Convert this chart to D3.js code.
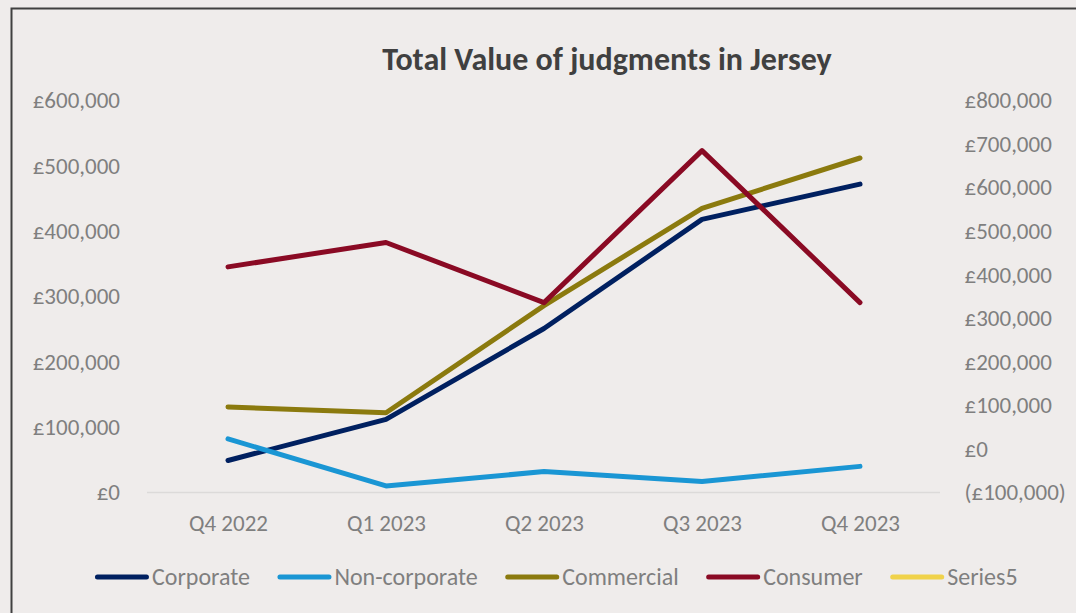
<!DOCTYPE html>
<html>
<head>
<meta charset="utf-8">
<script src="https://cdn.jsdelivr.net/npm/d3@7"></script>
<style>
  html, body { margin: 0; padding: 0; background: #efeceb; }
  svg { display: block; font-family: Calibri, Carlito, Lato, sans-serif; }
</style>
</head>
<body>
<div id="chart"></div>
<script>
var categories = ["Q4 2022", "Q1 2023", "Q2 2023", "Q3 2023", "Q4 2023"];
var corporate = [49000, 112000, 251000, 418000, 472000];
var nonCorporate = [82000, 10000, 32000, 17000, 40000];
var commercial = [131000, 122000, 286000, 435000, 512000];
var consumer = [418000, 474000, 336000, 685000, 336000];   // secondary axis
var series5 = [];
var leftTicks = [0, 100000, 200000, 300000, 400000, 500000, 600000];
var rightTicks = [-100000, 0, 100000, 200000, 300000, 400000, 500000, 600000, 700000, 800000];

var seriesList = [
  {name: "Corporate", values: corporate, axis: "left", color: "#002060"},
  {name: "Non-corporate", values: nonCorporate, axis: "left", color: "#1a96d4"},
  {name: "Commercial", values: commercial, axis: "left", color: "#8b7a0e"},
  {name: "Consumer", values: consumer, axis: "right", color: "#8a0a24"},
  {name: "Series5", values: series5, axis: "right", color: "#f0d24a"}
];

var width = 1076, height = 613;
var plot = {left: 149, right: 939, top: 100.5, bottom: 492.5};
var fontSize = 23;

var svg = d3.select("#chart").append("svg")
  .attr("width", width)
  .attr("height", height);

svg.append("rect")
  .attr("width", width).attr("height", height)
  .attr("fill", "#efeceb");

// outer frame (runs off the right / bottom edges)
svg.append("rect")
  .attr("x", 11.5).attr("y", 8.5)
  .attr("width", 1200).attr("height", 800)
  .attr("fill", "#efeceb")
  .attr("stroke", "#404040")
  .attr("stroke-width", 2);

svg.append("text")
  .attr("x", 607).attr("y", 70)
  .attr("text-anchor", "middle")
  .attr("font-size", 32)
  .attr("font-weight", "bold")
  .attr("fill", "#404040")
  .text("Total Value of judgments in Jersey");

var x = d3.scalePoint().domain(categories).range([plot.left, plot.right]).padding(0.5);
var yLeft = d3.scaleLinear().domain([0, 600000]).range([plot.bottom, plot.top]);
var yRight = d3.scaleLinear().domain([-100000, 800000]).range([plot.bottom, plot.top]);

var money = d3.format(",.0f");
function fmt(d) { return d < 0 ? "(£" + money(-d) + ")" : "£" + money(d); }

// baseline gridline
svg.append("line")
  .attr("x1", plot.left - 2).attr("x2", plot.right + 1)
  .attr("y1", yLeft(0)).attr("y2", yLeft(0))
  .attr("stroke", "#dcdad9")
  .attr("stroke-width", 1.5);

var gLeft = svg.append("g")
  .attr("transform", "translate(" + plot.left + ",0)")
  .call(d3.axisLeft(yLeft).tickValues(leftTicks).tickSize(0).tickPadding(29).tickFormat(fmt));

var gRight = svg.append("g")
  .attr("transform", "translate(" + plot.right + ",0)")
  .call(d3.axisRight(yRight).tickValues(rightTicks).tickSize(0).tickPadding(25.5).tickFormat(fmt));

var gX = svg.append("g")
  .attr("transform", "translate(0," + plot.bottom + ")")
  .call(d3.axisBottom(x).tickSize(0).tickPadding(22));

[gLeft, gRight, gX].forEach(function(g) {
  g.select(".domain").remove();
  g.selectAll("text")
    .attr("font-family", "Calibri, Carlito, Lato, sans-serif")
    .attr("font-size", fontSize)
    .attr("fill", "#7f7f7f");
});

var lineLeft = d3.line()
  .x(function(d, i) { return x(categories[i]); })
  .y(function(d) { return yLeft(d); });
var lineRight = d3.line()
  .x(function(d, i) { return x(categories[i]); })
  .y(function(d) { return yRight(d); });

seriesList.forEach(function(s) {
  if (s.values.length === 0) return;
  svg.append("path")
    .datum(s.values)
    .attr("fill", "none")
    .attr("stroke", s.color)
    .attr("stroke-width", 5)
    .attr("stroke-linecap", "round")
    .attr("stroke-linejoin", "round")
    .attr("d", s.axis === "left" ? lineLeft : lineRight);
});

// legend
var legendY = 577;
var legend = svg.append("g");
var items = legend.selectAll("g").data(seriesList).enter().append("g");
items.append("line")
  .attr("x1", 2.5).attr("x2", 51.5)
  .attr("y1", 0).attr("y2", 0)
  .attr("stroke", function(d) { return d.color; })
  .attr("stroke-width", 5)
  .attr("stroke-linecap", "round");
items.append("text")
  .attr("x", 57).attr("y", 0).attr("dy", "0.35em")
  .attr("font-size", 24)
  .attr("fill", "#7f7f7f")
  .text(function(d) { return d.name; });

var xpos = 0;
var widths = [];
items.each(function() {
  widths.push(this.getBBox().width);
});
var gap = 30;
var total = d3.sum(widths) + gap * (widths.length - 1);
var start = 555 - total / 2;
items.attr("transform", function(d, i) {
  var t = "translate(" + (start + xpos) + "," + legendY + ")";
  xpos += widths[i] + gap;
  return t;
});
</script>
</body>
</html>
